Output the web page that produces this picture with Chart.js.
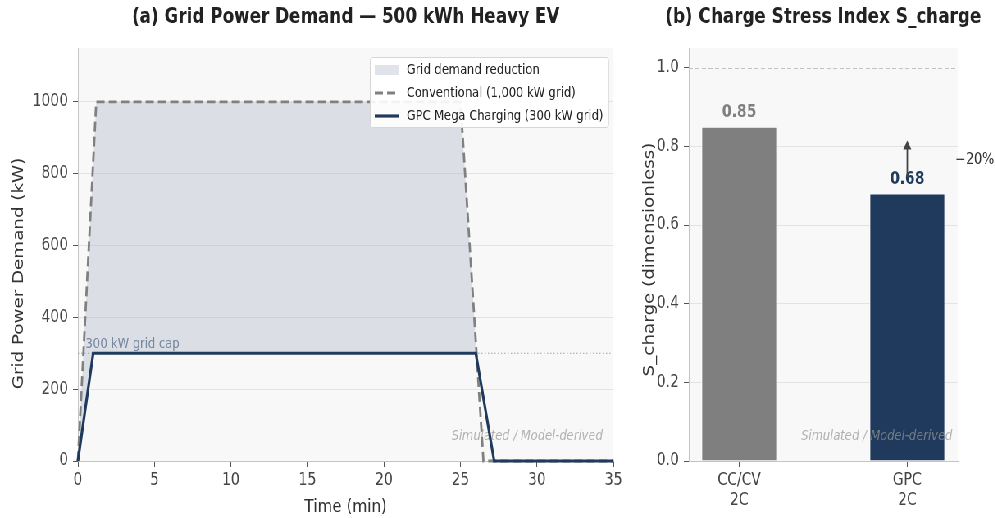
<!DOCTYPE html>
<html>
<head>
<meta charset="utf-8">
<script src="https://cdn.jsdelivr.net/npm/chart.js@4.4.1/dist/chart.umd.min.js"></script>
<style>
  html, body { margin: 0; padding: 0; background: #fff; overflow: hidden; }
  /* the original figure is squeezed horizontally; draw wide, then squeeze */
  #wrap { position: absolute; left: 0; top: 0; width: 1213px; height: 518px; transform: scaleX(0.82); transform-origin: 0 0; }
  #left { position: absolute; left: 0; top: 0; width: 762px; height: 518px; }
  #right { position: absolute; left: 762px; top: 0; width: 451px; height: 518px; }
</style>
</head>
<body>
<div id="wrap">
  <div id="left"><canvas id="demandChart"></canvas></div>
  <div id="right"><canvas id="stressChart"></canvas></div>
</div>
<script>
// ---- values ----
// (a) grid power demand profiles
const convTime = [0, 1.2, 25, 26.5, 35];
const convPower = [0, 1000, 1000, 0, 0];
const gpcTime = [0, 1.0, 26, 27.2, 35];
const gpcPower = [0, 300, 300, 0, 0];
const capTime = [0, 35];
const capPower = [300, 300];
const powerTicks = [0, 200, 400, 600, 800, 1000];

// (b) charge stress index
const stressLabels = [['CC/CV', '2C'], ['GPC', '2C']];
const stressValues = [0.85, 0.68];
const stressTicks = [0, 0.2, 0.4, 0.6, 0.8, 1.0];
const stressChange = '\u221220%';

const FONT = '"DejaVu Sans", sans-serif';
const FILL = 'rgba(170, 180, 198, 0.36)';
const NAVY = '#1f3a5c';
const TICK_SIZE = 17;

Chart.defaults.font.family = FONT;
Chart.defaults.animation = false;
Chart.defaults.responsive = true;
Chart.defaults.maintainAspectRatio = false;

const toPoints = (xs, ys) => xs.map((x, i) => ({ x: x, y: ys[i] }));

// light grey plot background like the original axes
const plotBackground = {
    id: 'plotBackground',
    beforeDraw(chart) {
        const { ctx, chartArea: a } = chart;
        ctx.save();
        ctx.fillStyle = '#f8f8f8';
        ctx.fillRect(a.left, a.top, a.right - a.left, a.bottom - a.top);
        ctx.restore();
    }
};

// bold panel title centred over the plot, plus the rotated y-axis title
const panelTitle = {
    id: 'panelTitle',
    afterDraw(chart, args, opts) {
        const { ctx, chartArea: a } = chart;
        ctx.save();
        ctx.font = 'bold 20.5px ' + FONT;
        ctx.fillStyle = '#222';
        ctx.textAlign = 'center';
        ctx.textBaseline = 'middle';
        ctx.fillText(opts.text, (a.left + a.right) / 2, 18);

        ctx.translate(opts.yTitleX, (a.top + a.bottom) / 2 + opts.yTitleShift);
        ctx.rotate(-Math.PI / 2);
        ctx.font = '18.3px ' + FONT;
        ctx.fillStyle = '#333';
        ctx.fillText(opts.yTitle, 0, 0);
        ctx.restore();
    }
};

// italic watermark in the lower right of each plot
function drawWatermark(chart) {
    const { ctx, chartArea: a } = chart;
    ctx.save();
    ctx.font = 'italic 14px ' + FONT;
    ctx.fillStyle = 'rgba(150, 150, 150, 0.7)';
    ctx.textAlign = 'right';
    ctx.textBaseline = 'middle';
    ctx.fillText('Simulated / Model-derived', a.left + 0.98 * (a.right - a.left), a.bottom - 0.06 * (a.bottom - a.top));
    ctx.restore();
}

// ===========================
// (a) GRID POWER DEMAND
// ===========================
const demandNotes = {
    id: 'demandNotes',
    beforeDatasetsDraw(chart) {
        const { ctx, scales } = chart;
        ctx.save();
        ctx.font = '14px ' + FONT;
        ctx.fillStyle = '#5b6f8c';
        ctx.textBaseline = 'alphabetic';
        ctx.fillText('300 kW grid cap', scales.x.getPixelForValue(0.5), scales.y.getPixelForValue(315));
        ctx.restore();
        drawWatermark(chart);
    },
    afterDraw(chart) {
        // legend box inside the plot, top right
        const { ctx, chartArea: a } = chart;
        const items = [0, 2, 3].map(i => chart.data.datasets[i]);
        ctx.save();
        ctx.font = '14px ' + FONT;
        const textW = Math.max(...items.map(d => ctx.measureText(d.label).width));
        const rowH = 23, sample = 29, pad = 6, gap = 10;
        const w = pad + sample + gap + textW + pad;
        const h = rowH * items.length + 1;
        const x0 = Math.round(a.right - 6 - w), y0 = Math.round(a.top + 9);

        ctx.fillStyle = 'rgba(255, 255, 255, 0.9)';
        ctx.strokeStyle = '#d6d6d6';
        ctx.lineWidth = 1;
        ctx.beginPath();
        ctx.roundRect(x0 + 0.5, y0 + 0.5, w, h, 3);
        ctx.fill();
        ctx.stroke();

        items.forEach((d, k) => {
            const cy = y0 + 13 + k * rowH;
            const sx = x0 + pad;
            if (k === 0) {
                ctx.fillStyle = FILL;
                ctx.fillRect(sx, cy - 5, sample, 10);
            } else {
                ctx.strokeStyle = d.borderColor;
                ctx.lineWidth = d.borderWidth;
                ctx.setLineDash(d.borderDash || []);
                ctx.beginPath();
                ctx.moveTo(sx, cy);
                ctx.lineTo(sx + sample, cy);
                ctx.stroke();
                ctx.setLineDash([]);
            }
            ctx.fillStyle = '#222';
            ctx.textBaseline = 'middle';
            ctx.fillText(d.label, sx + sample + gap, cy);
        });
        ctx.restore();
    }
};

new Chart(document.getElementById('demandChart'), {
    type: 'line',
    data: {
        datasets: [{
            label: 'Grid demand reduction',
            data: toPoints(convTime, convPower),
            borderColor: 'transparent',
            borderWidth: 0,
            pointRadius: 0,
            fill: { target: 3, above: FILL, below: 'transparent' },
            order: 4
        }, {
            label: '300 kW grid cap',
            data: toPoints(capTime, capPower),
            borderColor: '#8fa2b8',
            borderWidth: 1,
            borderDash: [1.5, 2.5],
            pointRadius: 0,
            fill: false,
            order: 3
        }, {
            label: 'Conventional (1,000 kW grid)',
            data: toPoints(convTime, convPower),
            borderColor: '#808080',
            borderWidth: 2.8,
            borderDash: [10, 5],
            pointRadius: 0,
            fill: false,
            clip: 4,
            order: 2
        }, {
            label: 'GPC Mega Charging (300 kW grid)',
            data: toPoints(gpcTime, gpcPower),
            borderColor: NAVY,
            borderWidth: 3.2,
            pointRadius: 0,
            fill: false,
            clip: 4,
            order: 1
        }]
    },
    options: {
        layout: { padding: { left: 10, right: 12, top: 48, bottom: 0 } },
        plugins: {
            legend: { display: false },
            tooltip: { enabled: false },
            panelTitle: {
                text: '(a) Grid Power Demand \u2014 500 kWh Heavy EV',
                yTitle: 'Grid Power Demand (kW)',
                yTitleX: 23,
                yTitleShift: 19
            }
        },
        scales: {
            x: {
                type: 'linear',
                min: 0,
                max: 35,
                offset: false,
                afterFit: s => { s.height = 57; },
                ticks: { stepSize: 5, color: '#444', font: { size: TICK_SIZE }, padding: 3 },
                grid: { drawOnChartArea: false, tickColor: '#555', tickLength: 6 },
                border: { color: '#c4c4c4' },
                title: { display: true, text: 'Time (min)', color: '#333', font: { size: 18.5 }, padding: 0 }
            },
            y: {
                min: 0,
                max: 1150,
                afterFit: s => { s.width = 85; },
                afterBuildTicks: s => { s.ticks = powerTicks.map(v => ({ value: v })); },
                ticks: { color: '#444', font: { size: TICK_SIZE }, padding: 6, callback: v => String(v) },
                grid: { color: '#e3e3e3', tickColor: '#555', tickLength: 6 },
                border: { color: '#c4c4c4' }
            }
        }
    },
    plugins: [plotBackground, panelTitle, demandNotes]
});

// ===========================
// (b) CHARGE STRESS INDEX
// ===========================
const stressNotes = {
    id: 'stressNotes',
    beforeDatasetsDraw(chart) {
        const { ctx, chartArea: a, scales } = chart;
        // dashed reference at S = 1.0
        const y1 = Math.round(scales.y.getPixelForValue(1.0)) + 0.5;
        ctx.save();
        ctx.strokeStyle = '#c2c2c2';
        ctx.lineWidth = 1;
        ctx.setLineDash([5, 3]);
        ctx.beginPath();
        ctx.moveTo(a.left, y1);
        ctx.lineTo(a.right, y1);
        ctx.stroke();
        ctx.restore();
    },
    afterDatasetsDraw(chart) {
        const { ctx, scales } = chart;
        const colors = chart.data.datasets[0].backgroundColor;
        ctx.save();
        ctx.font = 'bold 17px ' + FONT;
        ctx.textAlign = 'center';
        ctx.textBaseline = 'middle';
        stressValues.forEach((v, i) => {
            ctx.fillStyle = colors[i];
            ctx.fillText(v.toFixed(2), scales.x.getPixelForValue(i), scales.y.getPixelForValue(v) - 14);
        });

        // arrow showing the reduction
        const ax = scales.x.getPixelForValue(1);
        const yTail = scales.y.getPixelForValue(0.72);
        const yHead = scales.y.getPixelForValue(0.815);
        ctx.strokeStyle = '#444';
        ctx.fillStyle = '#444';
        ctx.lineWidth = 1.8;
        ctx.beginPath();
        ctx.moveTo(ax, yTail);
        ctx.lineTo(ax, yHead + 6);
        ctx.stroke();
        ctx.beginPath();
        ctx.moveTo(ax, yHead);
        ctx.lineTo(ax - 5, yHead + 9);
        ctx.lineTo(ax + 5, yHead + 9);
        ctx.closePath();
        ctx.fill();

        ctx.font = '15.5px ' + FONT;
        ctx.fillStyle = '#333';
        ctx.textAlign = 'left';
        ctx.fillText(stressChange, scales.x.getPixelForValue(1.285), scales.y.getPixelForValue(0.765));
        ctx.restore();
        drawWatermark(chart);
    }
};

new Chart(document.getElementById('stressChart'), {
    type: 'bar',
    data: {
        datasets: [{
            label: 'S_charge',
            data: stressValues.map((v, i) => ({ x: i, y: v })),
            backgroundColor: ['#7f7f7f', NAVY],
            borderColor: 'rgba(255, 255, 255, 0.8)',
            borderWidth: 1,
            barPercentage: 0.45,
            categoryPercentage: 1
        }]
    },
    options: {
        layout: { padding: { left: 0, right: 45, top: 48, bottom: 0 } },
        plugins: {
            legend: { display: false },
            tooltip: { enabled: false },
            panelTitle: {
                text: '(b) Charge Stress Index S_charge',
                yTitle: 'S_charge (dimensionless)',
                yTitleX: 30,
                yTitleShift: 5
            }
        },
        scales: {
            x: {
                type: 'linear',
                min: -0.3,
                max: 1.3,
                offset: false,
                afterFit: s => { s.height = 57; },
                afterBuildTicks: s => { s.ticks = stressValues.map((v, i) => ({ value: i })); },
                ticks: { color: '#444', font: { size: TICK_SIZE }, padding: 3, callback: v => stressLabels[v] },
                grid: { drawOnChartArea: false, offset: false, tickColor: '#555', tickLength: 6 },
                border: { color: '#c4c4c4' }
            },
            y: {
                min: 0,
                max: 1.05,
                afterFit: s => { s.width = 78; },
                afterBuildTicks: s => { s.ticks = stressTicks.map(v => ({ value: v })); },
                ticks: { color: '#444', font: { size: TICK_SIZE }, padding: 6, callback: v => v.toFixed(1) },
                grid: {
                    color: c => (c.tick && c.tick.value === 1.0 ? 'transparent' : '#e3e3e3'),
                    tickColor: '#555',
                    tickLength: 6
                },
                border: { color: '#c4c4c4' }
            }
        }
    },
    plugins: [plotBackground, panelTitle, stressNotes]
});
</script>
</body>
</html>
